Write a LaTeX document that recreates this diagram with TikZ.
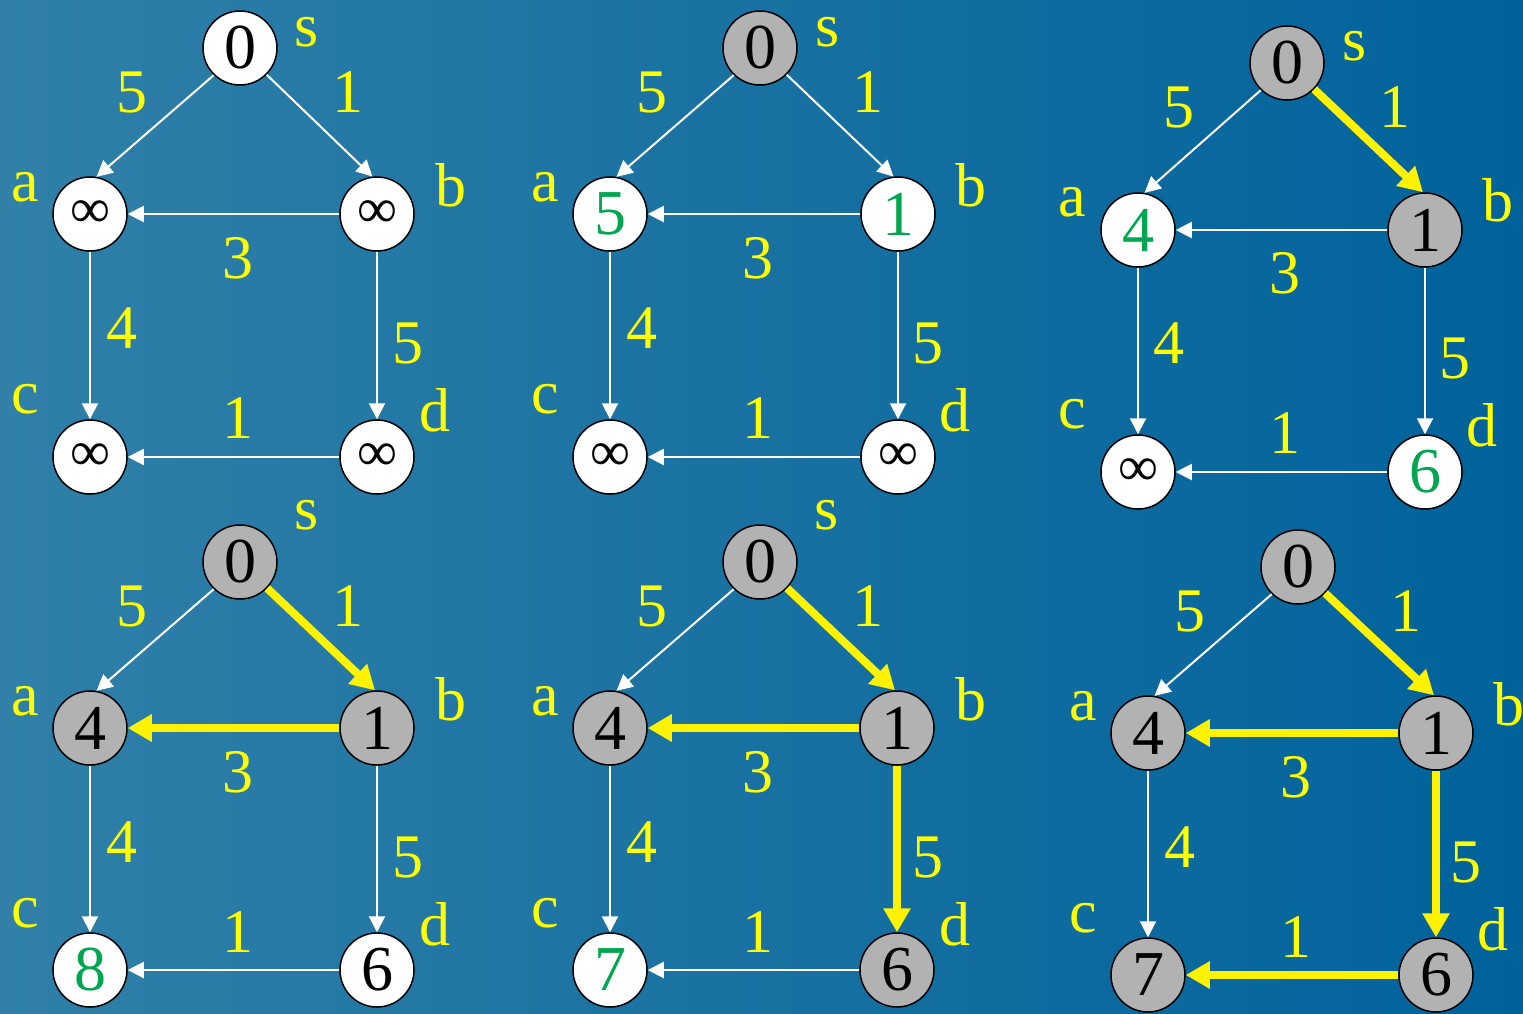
\documentclass[tikz,border=0pt]{standalone}
\usepackage{fontspec}
\setmainfont{Liberation Serif}
\usetikzlibrary{arrows.meta}
\definecolor{vgreen}{RGB}{0,166,80}
\definecolor{vgray}{RGB}{178,178,178}
\definecolor{bgL}{RGB}{48,128,168}
\definecolor{bgR}{RGB}{0,98,155}
\definecolor{lblyellow}{RGB}{255,255,0}
\tikzset{
 vtx/.style={circle,draw=black,line width=1.5pt,minimum size=74pt,inner sep=0pt,font=\fontsize{64}{64}\selectfont},
 wv/.style={vtx,fill=white},
 gv/.style={vtx,fill=vgray},
 gt/.style={text=vgreen},
 inf/.style={font=\fontsize{56}{56}\selectfont},
 lbl/.style={text=lblyellow,inner sep=0pt,font=\fontsize{62}{62}\selectfont},
 we/.style={draw=white,line width=2pt,-{Triangle[width=16pt,length=16pt]}},
 ye/.style={draw=yellow,line width=8pt,-{Triangle[width=26pt,length=24pt]}},
}
% weight and vertex-name labels, relative to the source vertex s
\newcommand\glabels[1]{%
 \node[lbl] (#1w5) at (-108,44) {5};
 \node[lbl] (#1w1) at (108,44) {1};
 \node[lbl] (#1na) at (-215,139) {a};
 \node[lbl] (#1nb) at (211,137) {b};
 \node[lbl] (#1w3) at (-2,210) {3};
 \node[lbl] (#1w4) at (-118,280) {4};
 \node[lbl] (#1w5b) at (168,295) {5};
 \node[lbl] (#1nc) at (-215,351) {c};
 \node[lbl] (#1nd) at (195,362) {d};
 \node[lbl] (#1w1b) at (-2,370) {1};
}
\begin{document}
\begin{tikzpicture}[x=1pt,y=-1pt]
\useasboundingbox (0,0) rectangle (1523,1013);
\fill[left color=bgL,right color=bgR] (0,0) rectangle (1523,1013);

% ---------- graph 1 ----------
\begin{scope}[shift={(240,48)}]
 \node[wv] (g1s) at (0,0) {0};
 \node[wv,inf] (g1a) at (-150,166) {∞};
 \node[wv,inf] (g1b) at (137,166) {∞};
 \node[wv,inf] (g1c) at (-150,409) {∞};
 \node[wv,inf] (g1d) at (137,409) {∞};
 \draw[we] (g1s.226) -- (g1a.80);
 \draw[we] (g1s.315) -- (g1b.97);
 \draw[we] (g1b) -- (g1a);
 \draw[we] (g1a) -- (g1c);
 \draw[we] (g1b) -- (g1d);
 \draw[we] (g1d) -- (g1c);
 \node[lbl] (g1ns) at (67,-16) {s};
 \glabels{g1}
\end{scope}

% ---------- graph 2 ----------
\begin{scope}[shift={(760,48)}]
 \node[gv] (g2s) at (0,0) {0};
 \node[wv,gt] (g2a) at (-150,166) {5};
 \node[wv,gt] (g2b) at (138,166) {1};
 \node[wv,inf] (g2c) at (-150,409) {∞};
 \node[wv,inf] (g2d) at (138,409) {∞};
 \draw[we] (g2s.226) -- (g2a.80);
 \draw[we] (g2s.315) -- (g2b.97);
 \draw[we] (g2b) -- (g2a);
 \draw[we] (g2a) -- (g2c);
 \draw[we] (g2b) -- (g2d);
 \draw[we] (g2d) -- (g2c);
 \node[lbl] (g2ns) at (68,-16) {s};
 \glabels{g2}
\end{scope}

% ---------- graph 3 ----------
\begin{scope}[shift={(1287,63)}]
 \node[gv] (g3s) at (0,0) {0};
 \node[wv,gt] (g3a) at (-149,167) {4};
 \node[gv] (g3b) at (138,167) {1};
 \node[wv,inf] (g3c) at (-149,409) {∞};
 \node[wv,gt] (g3d) at (138,409) {6};
 \draw[we] (g3s.226) -- (g3a.80);
 \draw[ye] (g3s.316) -- (g3b.93);
 \draw[we] (g3b) -- (g3a);
 \draw[we] (g3a) -- (g3c);
 \draw[we] (g3b) -- (g3d);
 \draw[we] (g3d) -- (g3c);
 \node[lbl] (g3ns) at (68,-17) {s};
 \glabels{g3}
\end{scope}

% ---------- graph 4 ----------
\begin{scope}[shift={(240,562)}]
 \node[gv] (g4s) at (0,0) {0};
 \node[gv] (g4a) at (-150,166) {4};
 \node[gv] (g4b) at (137,166) {1};
 \node[wv,gt] (g4c) at (-150,408) {8};
 \node[wv] (g4d) at (137,408) {6};
 \draw[we] (g4s.226) -- (g4a.80);
 \draw[ye] (g4s.316) -- (g4b.93);
 \draw[ye] (g4b) -- (g4a);
 \draw[we] (g4a) -- (g4c);
 \draw[we] (g4b) -- (g4d);
 \draw[we] (g4d) -- (g4c);
 \node[lbl] (g4ns) at (67,-47) {s};
 \glabels{g4}
\end{scope}

% ---------- graph 5 ----------
\begin{scope}[shift={(760,562)}]
 \node[gv] (g5s) at (0,0) {0};
 \node[gv] (g5a) at (-150,166) {4};
 \node[gv] (g5b) at (137,166) {1};
 \node[wv,gt] (g5c) at (-150,408) {7};
 \node[gv] (g5d) at (137,408) {6};
 \draw[we] (g5s.226) -- (g5a.80);
 \draw[ye] (g5s.316) -- (g5b.93);
 \draw[ye] (g5b) -- (g5a);
 \draw[we] (g5a) -- (g5c);
 \draw[ye] (g5b) -- (g5d);
 \draw[we] (g5d) -- (g5c);
 \node[lbl] (g5ns) at (67,-47) {s};
 \glabels{g5}
\end{scope}

% ---------- graph 6 ----------
\begin{scope}[shift={(1298,567)}]
 \node[gv] (g6s) at (0,0) {0};
 \node[gv] (g6a) at (-150,166) {4};
 \node[gv] (g6b) at (138,166) {1};
 \node[gv] (g6c) at (-150,408) {7};
 \node[gv] (g6d) at (138,408) {6};
 \draw[we] (g6s.226) -- (g6a.80);
 \draw[ye] (g6s.316) -- (g6b.93);
 \draw[ye] (g6b) -- (g6a);
 \draw[we] (g6a) -- (g6c);
 \draw[ye] (g6b) -- (g6d);
 \draw[ye] (g6d) -- (g6c);
 \glabels{g6}
\end{scope}
\end{tikzpicture}
\end{document}
